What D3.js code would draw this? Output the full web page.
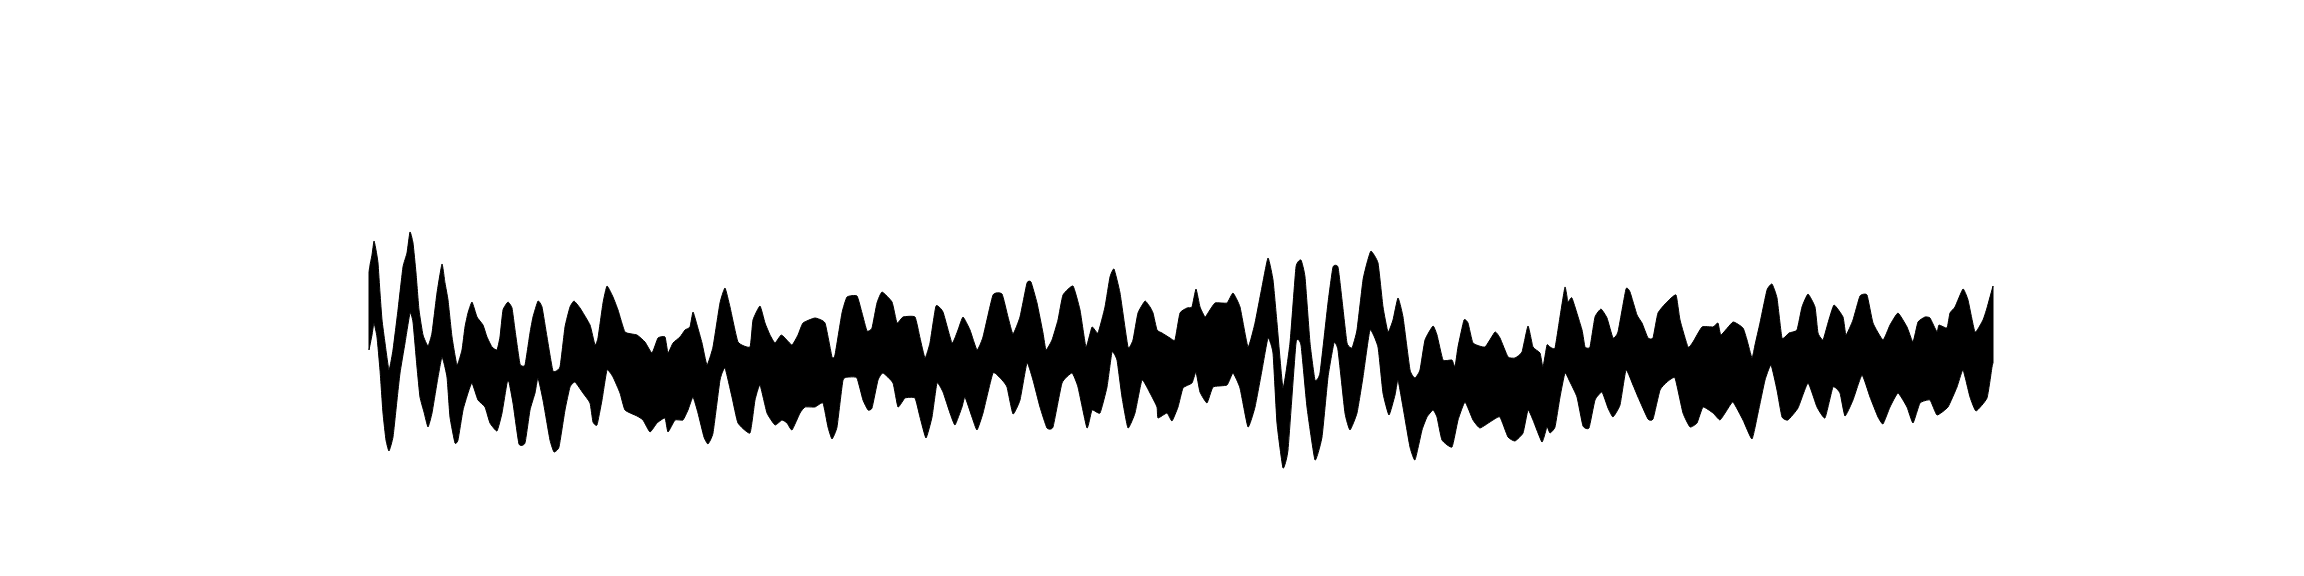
<!DOCTYPE html>
<html>
<head>
<meta charset="utf-8">
<style>html,body{margin:0;padding:0;background:#fff}svg{display:block}</style>
<script src="https://cdn.jsdelivr.net/npm/d3@7/dist/d3.min.js"></script>
</head>
<body>
<script>
const upperTime = [0,1,3,5,7,9,11,13,16,20,24,29,34,38,41,44,47,50,54,59,63,68,73,76,79,83,88,93,96,99,103,108,114,118,123,128,131,134,139,143,146,151,156,161,164,169,173,178,184,191,196,201,205,211,221,226,229,234,238,244,249,256,268,276,283,289,296,299,304,311,316,321,324,328,333,338,344,351,356,361,369,381,
384,391,396,401,406,412,416,423,429,434,446,456,463,466,473,478,488,493,498,503,508,513,523,528,534,546,551,556,561,567,574,583,589,594,601,608,614,624,633,639,644,651,658,662,668,674,677,683,689,694,704,711,717,723,729,736,741,745,751,759,764,769,776,781,
784,788,793,801,806,811,818,823,827,831,836,839,846,858,864,871,879,886,893,899,904,908,914,921,927,932,936,941,946,951,959,964,969,973,978,983,988,994,998,1002,1009,1014,1019,1024,1029,1034,1041,1046,1051,1056,1064,1068,1074,1083,1086,1089,1095,1099,1104,1116,1126,1131,1139,1146,1153,1159,1164,1171,1174,1178,1181,
1186,1191,1196,1199,1203,1213,1216,1221,1226,1232,1238,1244,1249,1257,1261,1268,1273,1279,1284,1289,1298,1307,1311,1319,1324,1333,1344,1349,1352,1364,1374,1378,1383,1386,1391,1398,1403,1408,1413,1420,1428,1433,1439,1446,1449,1454,1459,1465,1474,1477,1484,1491,1498,1504,1514,1521,1529,1538,1544,1549,1556,1561,1568,1570,1578,1581,1586,1594,1599,1606,1614,1618,1624];
const upperValue = [73,80,90,104,95,82,52,25,2,-25,-5,35,78,92,113,102,72,35,10,-1,12,52,81,62,45,8,-20,-5,18,32,43,28,20,8,-2,-5,8,35,43,37,15,-19,-20,12,28,44,38,8,-26,-22,18,38,44,37,20,0,7,42,59,48,35,13,10,3,-8,7,8,-8,2,8,15,18,33,20,2,-20,-2,42,57,38,3,-2,
25,39,22,10,2,10,7,0,10,22,27,22,-12,-10,32,48,49,32,14,17,42,53,43,22,28,28,7,-13,2,39,33,2,15,28,15,-5,8,50,51,28,11,28,62,63,42,12,-5,5,25,50,59,35,-2,18,12,38,68,76,52,-2,5,32,44,38,
32,15,12,7,5,32,37,38,56,38,28,32,42,42,52,38,-2,22,58,87,65,22,-43,2,78,85,68,2,-35,-28,42,78,78,45,2,-3,15,65,82,94,82,38,13,25,47,28,-25,-33,-25,5,19,10,-15,-15,-22,-2,25,22,2,-2,13,7,-12,-13,-7,19,-2,-8,-22,0,-2,
-3,28,58,43,47,15,-2,-2,28,36,27,7,13,56,53,30,22,7,7,32,43,50,25,-2,3,18,18,22,10,23,17,5,-13,0,22,55,61,47,7,12,15,38,51,38,12,5,22,40,28,10,25,49,50,22,5,20,32,18,3,23,28,27,13,20,17,32,38,56,45,13,25,37,59];
const lowerTime = [0,3,5,8,11,14,17,20,24,28,31,36,41,44,48,51,55,59,63,68,73,78,81,86,89,94,99,103,109,116,121,128,133,138,140,144,150,156,161,166,169,174,181,185,190,196,201,206,214,221,224,228,233,238,244,251,256,268,274,281,288,296,299,306,314,319,324,329,335,339,344,351,356,363,369,381,
386,391,398,406,413,418,423,431,436,446,454,459,463,468,474,481,488,494,499,503,509,514,524,529,536,546,551,557,563,568,574,581,586,593,596,603,608,614,624,633,638,644,651,658,664,671,678,684,693,703,709,718,723,731,738,743,748,753,759,766,773,781,
788,789,798,803,809,814,823,827,831,838,844,858,864,871,879,886,893,899,904,908,914,919,927,932,938,946,953,959,965,969,976,981,988,994,1001,1009,1014,1020,1026,1029,1034,1041,1046,1053,1058,1064,1068,1073,1083,1089,1096,1104,1111,1124,1131,1139,1146,1154,1159,1164,1173,1178,1181,
1186,1191,1196,1201,1208,1214,1220,1226,1233,1239,1244,1251,1257,1264,1269,1279,1284,1291,1298,1306,1314,1321,1328,1334,1344,1351,1358,1364,1374,1383,1389,1396,1402,1408,1413,1419,1429,1439,1448,1456,1464,1471,1476,1484,1493,1501,1509,1514,1521,1529,1538,1544,1551,1561,1568,1579,1588,1594,1601,1607,1618,1623,1624];
const lowerValue = [-5,10,22,8,-25,-68,-95,-106,-92,-55,-28,2,32,23,-22,-52,-67,-82,-68,-38,-12,-32,-72,-98,-95,-65,-48,-38,-55,-62,-78,-86,-68,-38,-37,-58,-99,-98,-65,-48,-33,-55,-95,-107,-102,-65,-42,-37,-48,-58,-77,-80,-55,-25,-32,-48,-65,-71,-75,-87,-78,-73,-87,-75,-75,-65,-52,-68,-92,-99,-88,-35,-23,-52,-78,-88,
-55,-40,-68,-80,-75,-78,-85,-68,-62,-62,-58,-82,-94,-82,-35,-32,-33,-55,-65,-63,-35,-28,-38,-62,-53,-53,-72,-93,-72,-38,-47,-68,-80,-62,-52,-72,-85,-68,-28,-35,-42,-69,-55,-18,-35,-62,-83,-82,-38,-28,-42,-83,-65,-68,-42,-7,-15,-52,-83,-68,-35,-48,
-62,-73,-68,-76,-62,-43,-38,-27,-47,-58,-42,-40,-28,-43,-82,-62,-25,7,-8,-78,-123,-105,2,0,-62,-115,-92,-32,2,-5,-68,-85,-68,-32,15,-2,-48,-70,-50,-35,-62,-102,-115,-85,-72,-65,-72,-95,-102,-75,-57,-75,-83,-75,-72,-92,-96,-88,-65,-75,-97,-82,-88,
-82,-52,-28,-37,-52,-81,-83,-55,-47,-63,-72,-60,-25,-40,-52,-74,-74,-45,-37,-33,-68,-82,-78,-62,-68,-75,-65,-57,-75,-94,-68,-35,-20,-45,-72,-75,-63,-38,-62,-73,-42,-48,-71,-55,-30,-52,-72,-79,-62,-48,-62,-78,-58,-55,-70,-62,-42,-25,-52,-66,-53,-22,-18];

const width = 2304, height = 576;
const x = d3.scaleLinear().domain([0, 1625]).range([369, 1994]);
const y = d3.scaleLinear().domain([-130, 130]).range([475, 215]);

const upper = upperTime.map((t, i) => [t, upperValue[i]]);
const lower = lowerTime.map((t, i) => [t, lowerValue[i]]).reverse();
const edge = d3.line().x(d => x(d[0])).y(d => y(d[1])).curve(d3.curveCardinal.tension(0.6));

const svg = d3.select("body").append("svg").attr("width", width).attr("height", height);
svg.append("path")
  .attr("d", edge(upper) + "L" + edge(lower).slice(1) + "Z")
  .attr("fill", "#000")
  .attr("stroke", "#000")
  .attr("stroke-width", 1)
  .attr("stroke-linejoin", "round");
</script>
</body>
</html>
